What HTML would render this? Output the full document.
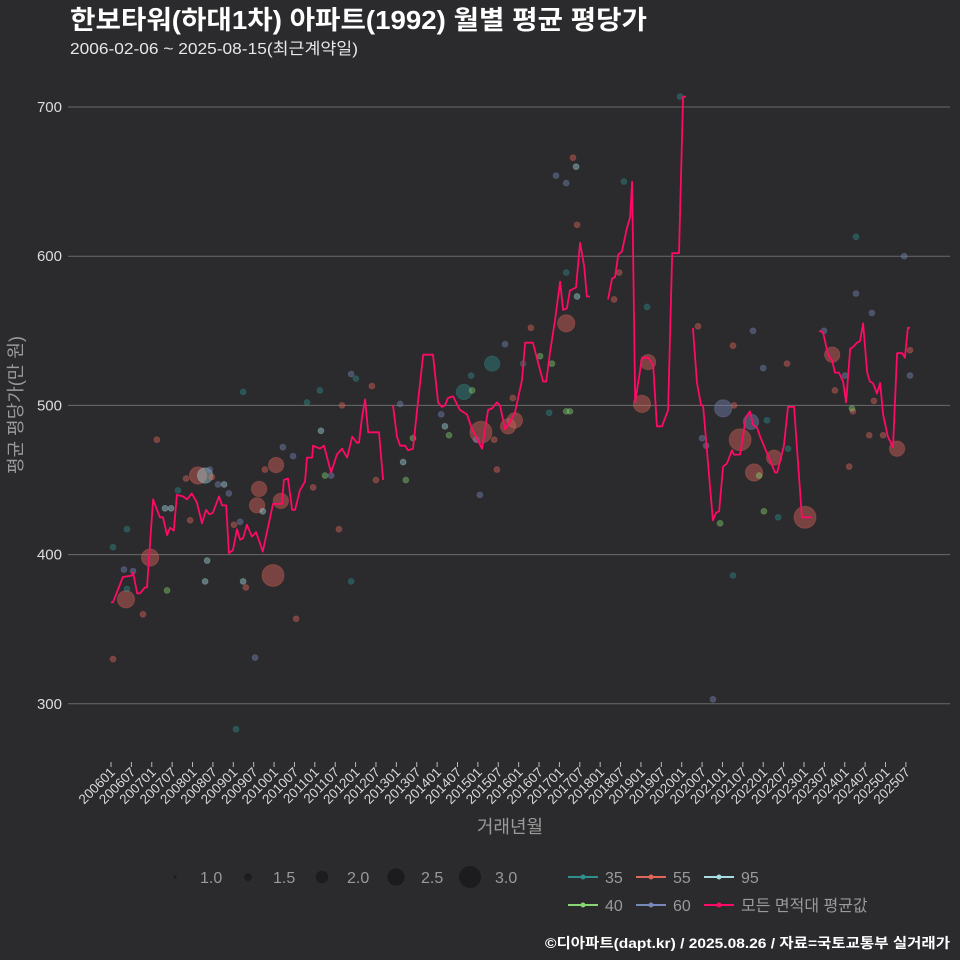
<!DOCTYPE html>
<html><head><meta charset="utf-8">
<style>
html,body{margin:0;padding:0;background:#2b2a2c;}
svg{display:block;font-family:"Liberation Sans","Noto Sans CJK KR",sans-serif;}
</style></head>
<body>
<svg id="chart" width="960" height="960" viewBox="0 0 960 960" xmlns="http://www.w3.org/2000/svg">
<rect width="960" height="960" fill="#2b2a2c"/>
<text x="70" y="29" font-size="26" font-weight="bold" fill="#ffffff" textLength="577" lengthAdjust="spacingAndGlyphs">한보타워(하대1차) 아파트(1992) 월별 평균 평당가</text>
<text x="70" y="54" font-size="16" fill="#e8e8e8" textLength="288" lengthAdjust="spacingAndGlyphs">2006-02-06 ~ 2025-08-15(최근계약일)</text>
<g id="grid"></g>
<g id="yticks"></g>
<g id="xticks"></g>
<g id="scatter"></g>
<g id="line"></g>
<text transform="translate(22,405) rotate(-90)" text-anchor="middle" font-size="18" fill="#9a9a9a">평균 평당가(만 원)</text>
<text x="510" y="833" text-anchor="middle" font-size="18" fill="#9a9a9a">거래년월</text>
<g id="legend"></g>
<text x="950" y="948" text-anchor="end" font-size="14" font-weight="bold" fill="#ffffff" textLength="405" lengthAdjust="spacingAndGlyphs">©디아파트(dapt.kr) / 2025.08.26 / 자료=국토교통부 실거래가</text>
</svg>
<script>
const yTicks=[300,400,500,600,700];
const xTickLabels=[];
for(let y=2006;y<=2025;y++){xTickLabels.push(y+"01");xTickLabels.push(y+"07");}
// line: month index (0 = 2006-01), value; null = gap
const lineMonths=[0,0.6,3.5,6.2,6.5,7.7,8.5,10,10.6,12.4,14.4,15.3,16.5,17.4,18.5,19.4,21.2,22.4,23.8,25.3,26.8,28,28.9,30,31.8,32.7,33.9,34.7,35.9,37.1,38,38.9,40,41.5,42.7,44.7,47.7,50.3,50.9,52.1,53.3,54.2,55.6,57.1,57.7,59.2,59.5,61.5,62.7,64.8,66.5,68,69.5,71,72.4,73,73.9,74.8,75.7,78.9,80.1,81,
83,84.2,85.1,86.6,87.4,88.9,90.1,91.9,94.8,96.3,97.4,98.3,99.2,100.7,102.7,104.8,106.3,107.7,109.2,111,112.2,113.6,114.5,116,117.5,118.9,121,121.9,124.2,125.7,127.2,128.1,129.2,130.7,132.2,133.1,134.2,135.1,136.9,138.1,139.3,140.1,141,142,
146.3,147.5,148.4,149.3,150.4,151.9,152.8,153.4,154.3,156.3,158.1,159.6,160.7,162.2,164,165.2,167.2,168.4,169.3,170,
171.3,172.5,173.7,174.3,177.2,178.1,179,180.2,181.3,182.8,183.4,185.2,186.9,188.1,189,190.2,191.1,193.1,195.5,196.1,198.1,199.3,201.1,203.4,206.4,207,
208.4,209.6,211.1,212.3,213.1,214.3,215.5,216.4,217.6,218.4,219.6,220.5,221.4,222.6,223.4,224.3,225.5,226.4,227.3,228.7,230.2,231.4,232.9,233.7,234.6,235.2];
const lineValues=[368,368,385,386,388,374,374,378,378,437,425,425,413,418,416,440,439,437,441,435,421,430,427,428,439,433,433,401,403,417,410,411,420,412,415,402,434,434,450,451,430,430,443,449,465,465,473,471,473,455,467,471,465,479,475,475,492,504,482,482,450,null,
500,479,473,473,470,471,497,534,534,502,499,500,505,506,497,494,484,478,471,497,498,502,500,484,489,495,517,542,542,529,516,516,535,557,583,564,565,577,579,609,593,573,573,null,
571,585,586,601,603,619,626,650,502,532,532,527,486,486,497,602,602,707,707,null,
552,515,500,500,423,428,429,459,461,470,467,467,492,496,487,485,479,468,455,455,473,499,499,425,425,null,
550,549,534,530,522,522,516,502,538,539,542,543,555,522,516,515,508,515,494,479,472,535,535,532,552,552];
// scatter points
const scatterMonths=[4.4,11.5,25.6,27.7,47.7,48.6,50,43.6,43,103.9,112.2,108.9,116.9,118.9,134,158.1,156.3,180.2,185.2,188.4,189.3,195.2,204.3,212.3,231.4,
0.6,0.6,4.7,3.8,6.5,4.7,9.4,13.5,16.5,15.9,17.7,19.7,22.1,23.3,27.7,28.3,29.1,29.7,31.5,33.3,34.7,36.8,36.2,38,38.9,38.9,39.7,42.4,44.7,45.3,50.6,53.6,54.5,57.7,59.5,61.5,61.8,63,64.8,67.1,68,70.7,70.7,72.1,76.8,78,85.1,86,86.8,88.9,97.2,98.3,99.5,106,106.3,112.8,107.5,108.6,113.6,116,118.3,123.6,121.3,126.3,129,129.8,134,135.1,131,134,136,136.9,137.2,137.2,134,149.6,148.1,151,157.8,167.5,177.2,179.3,183.1,183.1,183.4,174,175.2,172.8,189,192,193.1,192.2,190.8,196.4,199.3,199,209.9,213.1,216.1,217.3,218.4,218.1,219.3,219.3,224,223.2,227.3,233.5,235.2,235.2,224.6];
const scatterValues=[370,398,453,453,386,460,436,444,433,509,528,482,486,490,555,529,501,498,477,489,455,465,425,534,471,
330,405,417,390,389,377,360,477,376,431,431,443,451,423,382,396,457,452,447,447,441,283,420,422,382,509,378,331,429,457,472,466,357,502,445,510,483,453,453,417,500,521,382,518,513,450,501,462,450,478,494,486,480,520,510,477,477,440,457,541,505,552,528,533,495,528,496,496,654,649,666,660,621,573,589,589,571,650,566,707,303,421,386,540,500,478,473,553,550,525,490,429,453,425,471,528,550,510,520,459,496,498,575,613,562,480,480,600,520,537,503];
const scatterAreas=[55,55,55,95,55,55,55,55,55,35,35,55,55,55,55,55,55,60,55,60,55,55,55,55,55,
55,35,35,60,60,35,55,55,40,95,95,35,55,55,95,95,60,55,60,95,60,35,55,60,95,35,55,60,95,55,60,60,55,35,55,35,95,40,60,55,55,60,35,35,55,55,60,95,40,40,60,95,40,35,40,55,60,60,55,60,55,55,35,40,35,40,40,40,60,60,55,95,55,95,35,55,55,35,35,35,60,40,35,55,55,60,60,55,60,60,35,40,40,35,35,55,60,55,60,55,55,40,60,35,60,55,55,60,60,55,55];
const scatterSizes=[2.5,2.5,2.5,2.3,3.0,2.3,2.3,2.3,2.3,2.3,2.3,3.0,2.3,2.3,2.5,2.3,2.5,2.5,3.0,2.3,2.5,2.3,3.0,2.3,2.3];
const areaColors={35:"#2f8f8c",40:"#86d672",55:"#e2665c",60:"#7788bb",95:"#a7dce2"};

const NS="http://www.w3.org/2000/svg";
const X0=111,DX=3.397,Y700=107,PPU=1.492;
function xScale(m){return X0+m*DX;}
function yScale(v){return Y700+(700-v)*PPU;}
function rScale(s){return 1.5+(s-1)*4.75;}
function mk(tag,attrs,parent){const e=document.createElementNS(NS,tag);for(const k in attrs)e.setAttribute(k,attrs[k]);parent.appendChild(e);return e;}

const grid=document.getElementById('grid'),yt=document.getElementById('yticks');
yTicks.forEach(v=>{
  const l=mk('line',{x1:68,x2:950,y1:yScale(v),y2:yScale(v),stroke:'#6a6a6a','stroke-width':1},grid);
  
  
  const t=mk('text',{x:62,y:yScale(v)+5,'text-anchor':'end','font-size':15,fill:'#dddddd'},yt);
  t.textContent=v;
  
  
});
const xt=document.getElementById('xticks');
xTickLabels.forEach((lab,i)=>{
  const x=xScale(i*6);
  const tk=mk('line',{x1:x,x2:x,y1:762,y2:767,stroke:'#bbbbbb','stroke-width':1},xt);
  
  
  const t=mk('text',{transform:`translate(${x+5},${773}) rotate(-45)`,'text-anchor':'end','font-size':13.5,fill:'#d8d8d8'},xt);
  t.textContent=lab;
  
  
});
const sc=document.getElementById('scatter');
scatterMonths.forEach((m,i)=>{
  const s=i<scatterSizes.length?scatterSizes[i]:1.3;
  const c=mk('circle',{cx:xScale(m),cy:yScale(scatterValues[i]),r:rScale(s),fill:areaColors[scatterAreas[i]],'fill-opacity':0.42,stroke:areaColors[scatterAreas[i]],'stroke-opacity':0.3},sc);
  
  
});
const lg=document.getElementById('line');
let d='',pen=false;
lineMonths.forEach((m,i)=>{
  const v=lineValues[i];
  if(v===null){pen=false;return;}
  d+=(pen?'L':'M')+xScale(m).toFixed(1)+','+yScale(v).toFixed(1);
  pen=true;
});
const p=mk('path',{d:d,fill:'none',stroke:'#ff0a66','stroke-width':1.8,'stroke-linejoin':'round'},lg);



const leg=document.getElementById('legend');
const sizeLeg=[[1.0,175],[1.5,248],[2.0,322],[2.5,396],[3.0,470]];
sizeLeg.forEach(([s,x])=>{
  const c=mk('circle',{cx:x,cy:877,r:rScale(s),fill:'#1c1b1d'},leg);
  
  
  const t=mk('text',{x:x+25,y:883,'font-size':16,fill:'#9a9a9a'},leg);
  t.textContent=s.toFixed(1);
  
  
});
const colLeg=[["35",583,877,"#2f8f8c"],["55",651,877,"#e2665c"],["95",719,877,"#a7dce2"],["40",583,905,"#86d672"],["60",651,905,"#7788bb"],["모든 면적대 평균값",719,905,"#ff0a66"]];
colLeg.forEach(([lab,x,y,col])=>{
  const l=mk('line',{x1:x-15,x2:x+15,y1:y,y2:y,stroke:col,'stroke-width':2},leg);
  
  
  const c=mk('circle',{cx:x,cy:y,r:2.5,fill:col},leg);
  
  
  const t=mk('text',{x:x+22,y:y+6,'font-size':16,fill:'#9a9a9a'},leg);
  t.textContent=lab;
  
  
});
</script>
</body></html>
